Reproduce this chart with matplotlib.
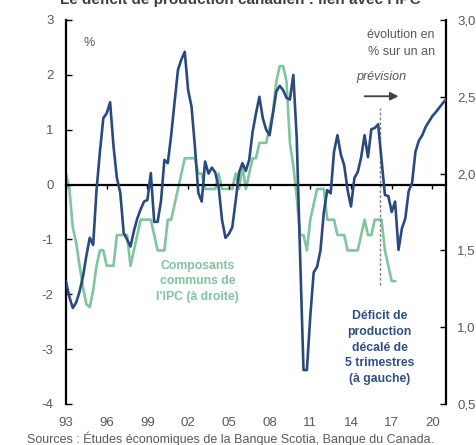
import matplotlib
matplotlib.use("Agg")
import matplotlib.pyplot as plt
import numpy as np
from matplotlib.ticker import FixedLocator, FuncFormatter

plt.rcParams['font.family'] = ['Liberation Sans Narrow', 'Liberation Sans', 'DejaVu Sans']

# Output gap shifted 5 quarters (left axis, %), quarterly from 1993Q1
gap = [-1.77, -2.05, -2.25, -2.15, -1.95, -1.68, -1.3, -0.97, -1.1, -0.1,
       0.6, 1.21, 1.3, 1.5, 0.7, 0.12, -0.15, -0.88, -1.0, -1.13,
       -0.85, -0.62, -0.45, -0.31, -0.28, 0.21, -0.68, -0.68, -0.3, 0.45,
       0.39, 0.9, 1.5, 2.09, 2.28, 2.42, 1.72, 1.42, 0.69, -0.15,
       -0.31, 0.42, 0.2, 0.31, 0.22, -0.05, -0.65, -0.97, -0.9, -0.78,
       -0.3, 0.22, 0.39, 0.25, 0.45, 0.96, 1.3, 1.6, 1.21, 1.0,
       0.9, 1.3, 1.7, 1.8, 1.72, 1.58, 1.55, 2.0, 0.85, -1.3,
       -3.38, -3.38, -2.4, -1.6, -1.5, -1.2, -0.5, -0.1, -0.16, 0.6,
       0.9, 0.55, 0.35, -0.1, -0.4, 0.12, 0.23, 0.5, 0.9, 0.5,
       1.01, 1.03, 1.1, 0.45, -0.19, -0.21, -0.5, -0.31, -1.19, -0.8,
       -0.62, -0.12, 0.03, 0.6, 0.8, 0.9, 1.05, 1.15, 1.25, 1.32,
       1.4, 1.48, 1.55]

# Common CPI components (right axis, y/y %), quarterly from 1993Q1
cpi = [2.0, 1.9, 1.65, 1.55, 1.4, 1.26, 1.15, 1.13, 1.24, 1.4,
       1.5, 1.5, 1.4, 1.4, 1.4, 1.6, 1.6, 1.6, 1.6, 1.4,
       1.5, 1.6, 1.7, 1.7, 1.7, 1.7, 1.6, 1.5, 1.5, 1.5,
       1.7, 1.7, 1.8, 1.9, 2.0, 2.1, 2.1, 2.1, 2.1, 2.0,
       2.0, 1.9, 1.9, 1.9, 1.9, 2.0, 1.9, 1.9, 1.9, 1.9,
       2.0, 1.9, 2.05, 1.9, 2.0, 2.1, 2.1, 2.2, 2.2, 2.2,
       2.3, 2.4, 2.6, 2.7, 2.7, 2.6, 2.2, 2.05, 1.85, 1.6,
       1.6, 1.5, 1.7, 1.8, 1.9, 1.9, 1.9, 1.7, 1.7, 1.7,
       1.6, 1.6, 1.6, 1.5, 1.5, 1.5, 1.5, 1.6, 1.7, 1.6,
       1.6, 1.7, 1.7, 1.7, 1.5, 1.4, 1.3, 1.3]

start_year = 1993
x_gap = start_year + 0.25 * np.arange(len(gap))
x_cpi = start_year + 0.25 * np.arange(len(cpi))

xtick_years = [1993, 1996, 1999, 2002, 2005, 2008, 2011, 2014, 2017, 2020]
xtick_labels = ['93', '96', '99', '02', '05', '08', '11', '14', '17', '20']
left_ticks = [-4, -3, -2, -1, 0, 1, 2, 3]
right_ticks = [0.5, 1.0, 1.5, 2.0, 2.5, 3.0]
forecast_x = 2016.15

BLUE = '#2a4a7f'
GREEN = '#80c4a0'
GREEN_TXT = '#7fc49f'
GREY = '#595959'

fig = plt.figure(figsize=(4.77, 4.45), dpi=100)
ax = fig.add_axes([66/477, 41/445, 380/477, 384/445])
ax2 = ax.twinx()

ax.set_xlim(1993, 2021)
ax.set_ylim(-4, 3)
ax2.set_ylim(0.5, 3.0)

ax2.plot(x_cpi, cpi, color=GREEN, lw=1.9, zorder=2)
ax.plot(x_gap, gap, color=BLUE, lw=1.9, zorder=3)
ax.set_zorder(ax2.get_zorder() + 1)
ax.patch.set_visible(False)

# spines
ax.spines['top'].set_visible(False)
ax2.spines['top'].set_visible(False)
ax2.spines['left'].set_visible(False)
ax2.spines['bottom'].set_visible(False)
ax.spines['right'].set_visible(False)
ax.spines['left'].set_linewidth(1.6)
ax2.spines['right'].set_linewidth(1.6)
ax.spines['bottom'].set_position(('data', 0))
ax.spines['bottom'].set_linewidth(1.6)

ax.yaxis.set_major_locator(FixedLocator(left_ticks))
ax.yaxis.set_major_formatter(FuncFormatter(lambda v, p: str(int(v))))
ax.tick_params(axis='y', direction='in', length=4, width=1, colors='black',
               labelcolor=GREY, labelsize=9.5, pad=9)

ax2.yaxis.set_major_locator(FixedLocator(right_ticks))
ax2.yaxis.set_major_formatter(FuncFormatter(lambda v, p: f"{v:.1f}".replace('.', ',')))
ax2.tick_params(axis='y', direction='in', length=4, width=1, colors='black',
                labelcolor=GREY, labelsize=9.5, pad=8)

ax.set_xticks(xtick_years)
ax.tick_params(axis='x', direction='out', length=3, width=1, colors='black',
               labelbottom=False)

sec = ax.secondary_xaxis(0)
sec.set_xticks(xtick_years)
sec.set_xticklabels(xtick_labels)
sec.spines['bottom'].set_visible(False)
sec.tick_params(axis='x', length=0, labelsize=9.5, labelcolor=GREY, pad=9)

# forecast marker
ax.vlines(forecast_x, -1.83, 1.4, colors='#7f7f7f', linestyles=(0, (2, 1.5)), lw=1.0, zorder=1)
ax.annotate('', xy=(2017.5, 1.61), xytext=(2015.0, 1.61),
            arrowprops=dict(arrowstyle='-|>', color='#404040', lw=1.3,
                            mutation_scale=12, shrinkA=0, shrinkB=0))
ax.text(0.829, 0.852, 'prévision', transform=ax.transAxes, ha='center', va='center',
        fontsize=9, style='italic', color=GREY)
ax.text(0.971, 0.939, 'évolution en\n% sur un an', transform=ax.transAxes, ha='right',
        va='center', fontsize=9, color=GREY, linespacing=1.5)
ax.text(0.0605, 0.940, '%', transform=ax.transAxes, ha='center', va='center',
        fontsize=9, color=GREY)

ax.text(0.347, 0.320, "Composants\ncommuns de\nl'IPC (à droite)", transform=ax.transAxes,
        ha='center', va='center', fontsize=8.8, fontweight='bold', color=GREEN_TXT,
        linespacing=1.4)
ax.text(0.825, 0.147, "Déficit de\nproduction\ndécalé de\n5 trimestres\n(à gauche)",
        transform=ax.transAxes, ha='center', va='center', fontsize=8.8,
        fontweight='bold', color='#2f4f86', linespacing=1.4)

fig.text(0.503, 0.991, "Le déficit de production canadien : lien avec l'IPC",
         ha='center', va='baseline', fontsize=11, fontweight='bold', color='#404040')
fig.text(27/477, 2/445, 'Sources : Études économiques de la Banque Scotia, Banque du Canada.',
         ha='left', va='baseline', fontsize=9, color=GREY)

fig.savefig('out.png', dpi=100)
